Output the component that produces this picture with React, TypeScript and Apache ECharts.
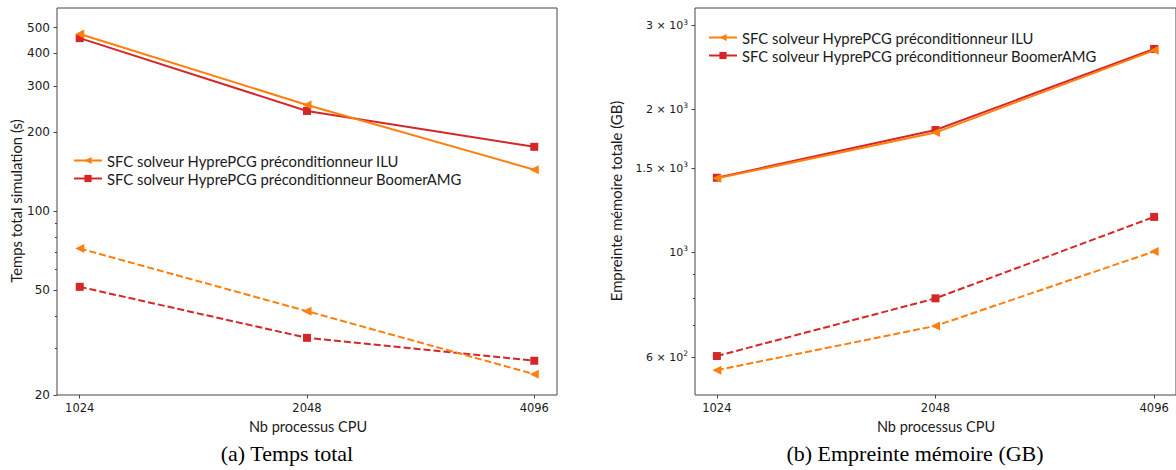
import React, { useEffect, useRef } from 'react';
import * as echarts from 'echarts';

const cpuCounts = [1024, 2048, 4096];

const nameIlu = 'SFC solveur HyprePCG préconditionneur ILU';
const nameAmg = 'SFC solveur HyprePCG préconditionneur BoomerAMG';

// (a) Temps total (s)
const timeIluSolid = [473, 254, 144];
const timeAmgSolid = [456, 241, 176];
const timeIluDashed = [72.2, 41.7, 24.0];
const timeAmgDashed = [51.6, 33.0, 27.0];

// (b) Empreinte mémoire (GB)
const memIluSolid = [1430, 1785, 2660];
const memAmgSolid = [1434, 1807, 2678];
const memIluDashed = [564, 699, 1003];
const memAmgDashed = [604, 799, 1186];

const xTickValues = [1024, 2048, 4096];
const timeMajorTicks = [20, 50, 100, 200, 300, 400, 500];
const timeMinorTicks = [30, 40, 60, 70, 80, 90];
const memMajorTicks = [600, 1000, 1500, 2000, 3000];
const memMinorTicks = [700, 800, 900];

const ORANGE = '#ff7f0e';
const RED = '#d62728';
const TXT = '#1a1a1a';
const TICK_FONT = 'DejaVu Sans';
const UI_FONT = 'Lato';

export default function App() {
  const ref = useRef<HTMLDivElement>(null);

  useEffect(() => {
    if (!ref.current) return;
    const chart = echarts.init(ref.current, null, { renderer: 'svg' });

    const xMinLog = 9.9, xMaxLog = 12.1;
    const tMin = 20, tMax = 594;
    const mMin = 500, mMax = 3266;

    const grids = [
      { left: 57, top: 8, width: 500, height: 387 },
      { left: 695, top: 8, width: 482, height: 387 },
    ].map((g) => ({ ...g, show: true, borderColor: '#444', borderWidth: 1, backgroundColor: 'transparent' }));

    const xData = (gi: number) => ({
      type: 'log', logBase: 2, gridIndex: gi, position: 'bottom', show: false,
      min: Math.pow(2, xMinLog), max: Math.pow(2, xMaxLog),
    });
    const xLabel = (gi: number) => ({
      type: 'value', gridIndex: gi, position: 'bottom', min: xMinLog, max: xMaxLog,
      axisLine: { show: false, onZero: false },
      splitLine: { show: false },
      axisTick: { show: true, length: 3.5, lineStyle: { color: '#444' }, customValues: xTickValues.map(Math.log2) },
      axisLabel: {
        show: true, margin: 7, fontFamily: TICK_FONT, fontSize: 11.5, color: TXT,
        customValues: xTickValues.map(Math.log2),
        formatter: (v: number) => String(Math.round(Math.pow(2, v))),
      },
    });

    const supFmt = (v: number) => {
      const val = Math.round(Math.pow(10, v));
      const e = Math.floor(Math.log10(val) + 1e-9);
      const m = Math.round((val / Math.pow(10, e)) * 100) / 100;
      return m === 1 ? `10{sup|${e}}` : `${m} × 10{sup|${e}}`;
    };

    const yData = (gi: number, min: number, max: number) => ({
      type: 'log', logBase: 10, gridIndex: gi, position: 'left', show: false, min, max,
    });
    const yLabel = (gi: number, min: number, max: number, major: number[], sci: boolean) => ({
      type: 'value', gridIndex: gi, position: 'left', min: Math.log10(min), max: Math.log10(max),
      axisLine: { show: false, onZero: false },
      splitLine: { show: false },
      axisTick: { show: true, length: 3.5, lineStyle: { color: '#444' }, customValues: major.map(Math.log10) },
      axisLabel: {
        show: true, margin: 7, fontFamily: TICK_FONT, fontSize: sci ? 11 : 12, color: TXT,
        lineHeight: 15,
        customValues: major.map(Math.log10),
        formatter: sci ? supFmt : (v: number) => String(Math.round(Math.pow(10, v))),
        rich: { sup: { fontSize: 7.5, fontFamily: TICK_FONT, color: TXT, verticalAlign: 'top', lineHeight: 15 } },
      },
    });
    const yMinor = (gi: number, min: number, max: number, minor: number[]) => ({
      type: 'value', gridIndex: gi, position: 'left', min: Math.log10(min), max: Math.log10(max),
      axisLine: { show: false, onZero: false },
      splitLine: { show: false },
      axisLabel: { show: false },
      axisTick: { show: true, length: 2, lineStyle: { color: '#444' }, customValues: minor.map(Math.log10) },
    });

    const pts = (vals: number[]) => cpuCounts.map((c, i) => [c, vals[i]]);
    const line = (name: string, vals: number[], color: string, dashed: boolean, isTri: boolean, xi: number, yi: number) => ({
      type: 'line', name, xAxisIndex: xi, yAxisIndex: yi, data: pts(vals),
      symbol: isTri ? 'triangle' : 'rect', symbolSize: isTri ? 9 : 8, symbolRotate: isTri ? 90 : 0,
      showAllSymbol: true,
      lineStyle: { color, width: 2, type: dashed ? [7, 3] : 'solid' },
      itemStyle: { color },
      emphasis: { disabled: true },
      z: isTri ? 3 : 2,
    });

    const legendCommon = {
      orient: 'vertical', itemWidth: 28, itemHeight: 9, itemGap: 3,
      textStyle: { fontFamily: UI_FONT, fontSize: 14.8, color: TXT },
      data: [nameIlu, nameAmg], selectedMode: false,
    };

    const label = (text: string, x: number, y: number, rotate: boolean, serif = false, size = 14.8) => ({
      type: 'text', x, y, rotation: rotate ? Math.PI / 2 : 0,
      style: {
        text, fontFamily: serif ? 'Liberation Serif' : UI_FONT, fontSize: size,
        fill: serif ? '#000' : TXT, align: 'center', verticalAlign: 'middle',
      },
    });

    chart.setOption({
      animation: false,
      grid: grids,
      xAxis: [xData(0), xLabel(0), xData(1), xLabel(1)],
      yAxis: [
        yData(0, tMin, tMax), yLabel(0, tMin, tMax, timeMajorTicks, false), yMinor(0, tMin, tMax, timeMinorTicks),
        yData(1, mMin, mMax), yLabel(1, mMin, mMax, memMajorTicks, true), yMinor(1, mMin, mMax, memMinorTicks),
      ],
      legend: [
        { ...legendCommon, left: 68, top: 148 },
        { ...legendCommon, left: 703, top: 25 },
      ],
      series: [
        line(nameIlu, timeIluSolid, ORANGE, false, true, 0, 0),
        line(nameAmg, timeAmgSolid, RED, false, false, 0, 0),
        line('ILU (pointillé)', timeIluDashed, ORANGE, true, true, 0, 0),
        line('BoomerAMG (pointillé)', timeAmgDashed, RED, true, false, 0, 0),
        line(nameIlu, memIluSolid, ORANGE, false, true, 2, 3),
        line(nameAmg, memAmgSolid, RED, false, false, 2, 3),
        line('ILU mémoire (pointillé)', memIluDashed, ORANGE, true, true, 2, 3),
        line('BoomerAMG mémoire (pointillé)', memAmgDashed, RED, true, false, 2, 3),
      ],
      graphic: [
        label('Temps total simulation (s)', 16, 201, true),
        label('Nb processus CPU', 308, 426, false, false, 14.5),
        label('(a) Temps total', 287, 453, false, true, 22),
        label('Empreinte mémoire totale (GB)', 616, 201, true),
        label('Nb processus CPU', 936, 426, false, false, 14.5),
        label('(b) Empreinte mémoire (GB)', 915, 453, false, true, 22),
      ],
    });

    return () => chart.dispose();
  }, []);

  return <div ref={ref} style={{ position: 'absolute', left: 0, top: 0, width: 1176, height: 470 }} />;
}
